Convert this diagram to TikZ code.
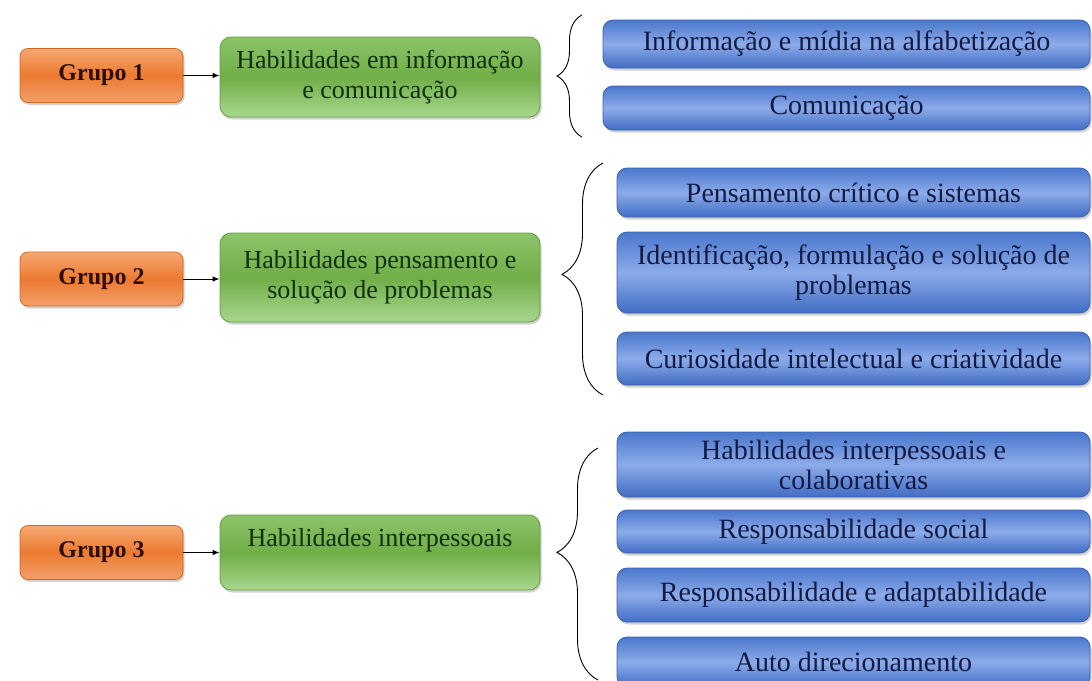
\documentclass[tikz,border=0pt]{standalone}
\usepackage{fontspec}
\setmainfont{Liberation Serif}
\usetikzlibrary{shadows}
\usetikzlibrary{arrows.meta}
\usetikzlibrary{decorations.pathreplacing}
\usetikzlibrary{positioning}

\definecolor{laranjaTopo}{HTML}{F6A872}
\definecolor{laranjaMeio}{HTML}{EC7A30}
\definecolor{laranjaBase}{HTML}{F2A06C}
\definecolor{laranjaBorda}{HTML}{D2691F}
\definecolor{verdeTopo}{HTML}{8CC46A}
\definecolor{verdeMeio}{HTML}{70AE47}
\definecolor{verdeBase}{HTML}{A8D78E}
\definecolor{verdeBorda}{HTML}{62A03E}
\definecolor{azulTopo}{HTML}{4A77CC}
\definecolor{azulMeio}{HTML}{8CABEA}
\definecolor{azulBase}{HTML}{416DC4}
\definecolor{azulBorda}{HTML}{3B63B0}
\definecolor{textoGrupo}{HTML}{2B0E00}
\definecolor{textoVerde}{HTML}{10300F}
\definecolor{textoAzul}{HTML}{141B42}

\tikzset{
    grupo/.style={draw=laranjaBorda, line width=0.8pt, rounded corners=8pt,
        top color=laranjaTopo, bottom color=laranjaBase, middle color=laranjaMeio,
        minimum width=163pt, minimum height=54pt, inner sep=0pt,
        font=\fontsize{24}{28}\selectfont\bfseries, text=textoGrupo,
        drop shadow={shadow xshift=1.5pt, shadow yshift=-2.5pt, opacity=0.35}},
    habil/.style={draw=verdeBorda, line width=0.8pt, rounded corners=11pt,
        top color=verdeTopo, bottom color=verdeBase, middle color=verdeMeio,
        minimum width=320pt, inner sep=0pt, align=center,
        font=\fontsize{26}{30}\selectfont, text=textoVerde,
        drop shadow={shadow xshift=1.5pt, shadow yshift=-2.5pt, opacity=0.35}},
    item/.style={draw=azulBorda, line width=0.8pt, rounded corners=10pt,
        top color=azulTopo, bottom color=azulBase, middle color=azulMeio,
        minimum width=473pt, inner sep=0pt, align=center,
        font=\fontsize{28}{30}\selectfont, text=textoAzul,
        drop shadow={shadow xshift=1.5pt, shadow yshift=-2.5pt, opacity=0.35}},
    seta/.style={draw=black, line width=1pt, -{Latex[length=7pt, width=5.5pt]}},
    chave/.style={draw=black, line width=0.9pt, decorate}
}

\begin{document}
\begin{tikzpicture}[x=1pt, y=-1pt]
        \useasboundingbox (0,0) rectangle (1092,680);
        \clip (0,0) rectangle (1092,680);

        %grupos
        \node[grupo] (g1) at (101.5,75.5) {Grupo 1};
        \node[grupo] (g2) at (101.5,279) {Grupo 2};
        \node[grupo] (g3) at (101.5,552.5) {Grupo 3};

        %habilidades
        \node[habil, minimum height=80pt] (h1) at (380,77) {Habilidades em informação\\e comunicação};
        \node[habil, minimum height=89pt] (h2) at (380,277.5) {Habilidades pensamento e\\solução de problemas};
        \node[habil, minimum height=75pt] (h3) at (380,552.5) {Habilidades interpessoais\\\mbox{}};

        \draw[seta] (g1.east) -- (g1.east -| h1.west);
        \draw[seta] (g2.east) -- (g2.east -| h2.west);
        \draw[seta] (g3.east) -- (g3.east -| h3.west);

        %chaves
        \coordinate (c1a) at (582,15);
        \coordinate (c1b) at (582,137);
        \coordinate (c2a) at (603,163);
        \coordinate (c2b) at (603,395);
        \coordinate (c3a) at (598,448);
        \coordinate (c3b) at (598,680);
        \draw[chave, decoration={brace, amplitude=25pt}] (c1b) -- (c1a);
        \draw[chave, decoration={brace, amplitude=41pt, aspect=0.52}] (c2b) -- (c2a);
        \draw[chave, decoration={brace, amplitude=41pt, aspect=0.55}] (c3b) -- (c3a);

        %itens grupo 1
        \node[item, minimum width=487pt, minimum height=48pt] (i1) at (846.5,44) {Informação e mídia na alfabetização};
        \node[item, minimum width=487pt, minimum height=44pt] (i2) at (846.5,108) {Comunicação};

        %itens grupo 2
        \node[item, minimum height=49pt] (i3) at (853.5,192.5) {Pensamento crítico e sistemas};
        \node[item, minimum height=81pt] (i4) at (853.5,272.5) {Identificação, formulação e solução de\\problemas};
        \node[item, minimum height=53pt] (i5) at (853.5,358.5) {Curiosidade intelectual e criatividade};

        %itens grupo 3
        \node[item, minimum height=65pt] (i6) at (853.5,464.5) {Habilidades interpessoais e\\colaborativas};
        \node[item, minimum height=43pt] (i7) at (853.5,531.5) {Responsabilidade social};
        \node[item, minimum height=54pt] (i8) at (853.5,595) {Responsabilidade e adaptabilidade};
        \node[item, minimum height=50pt] (i9) at (853.5,662) {Auto direcionamento};
    \end{tikzpicture}
\end{document}
